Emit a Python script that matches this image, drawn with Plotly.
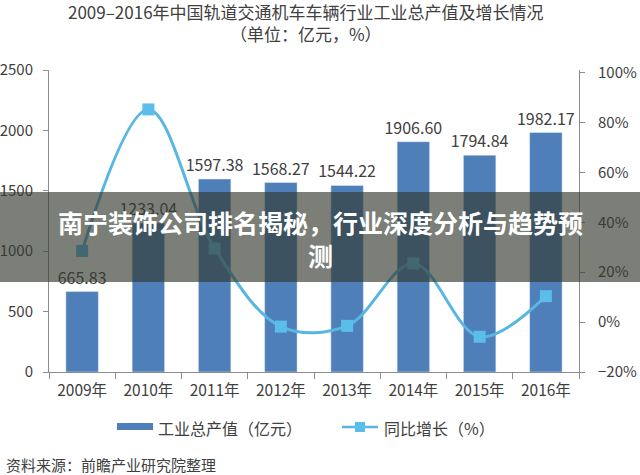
import plotly.graph_objects as go

# ---- data ----
years = ["2009年", "2010年", "2011年", "2012年", "2013年", "2014年", "2015年", "2016年"]
output_value = [665.83, 1233.04, 1597.38, 1568.27, 1544.22, 1906.60, 1794.84, 1982.17]
growth_rate = [28.5, 85.2, 29.5, -1.8, -1.5, 23.5, -5.9, 10.4]
left_ticks = [0, 500, 1000, 1500, 2000, 2500]
right_ticks = [-20, 0, 20, 40, 60, 80, 100]
right_labels = [f"{v}%".replace("-", "−") for v in right_ticks]

title_text = "2009–2016年中国轨道交通机车车辆行业工业总产值及增长情况<br>（单位：亿元，%）"
legend_bar = "工业总产值（亿元）"
legend_line = "同比增长（%）"
source_text = "资料来源：前瞻产业研究院整理"
banner_text = "南宁装饰公司排名揭秘，行业深度分析与趋势预<br>测"

# ---- layout helpers (pixel coords) ----
W, H = 640, 475
PL, PR, PT, PB = 49, 579, 70, 372          # plot area in pixels
L, R, T, B = PL, W - PR, PT, H - PB
pw, ph = PR - PL, PB - PT


def px(x):
    return (x - PL) / pw


def py(y):
    return (PB - y) / ph


FONT = "Noto Sans CJK SC"
TXT = "#404040"
AX = "#8c8c8c"
BAR = "#4f7fb9"
LINE = "#58b6e2"

fig = go.Figure()
fig.add_bar(
    x=years, y=output_value, marker_color=BAR, width=0.49,
    text=[f"{v:.2f}" for v in output_value], textposition="outside",
    constraintext="none",
    textfont=dict(size=16, color=TXT, family=FONT), cliponaxis=False,
    showlegend=False, hoverinfo="skip",
)
fig.add_scatter(
    x=years, y=growth_rate, yaxis="y2", mode="lines+markers",
    line=dict(color=LINE, width=3, shape="spline", smoothing=1),
    marker=dict(symbol="square", size=12, color="#5bbde9"),
    showlegend=False, cliponaxis=False, hoverinfo="skip",
)

shapes = [
    # banner
    dict(type="rect", xref="paper", yref="paper", x0=px(0), x1=px(640),
         y0=py(282), y1=py(192), fillcolor="rgba(52,58,48,0.65)",
         line=dict(width=0), layer="above"),
    # legend: bar swatch
    dict(type="rect", xref="paper", yref="paper", x0=px(117), x1=px(153),
         y0=py(430), y1=py(423), fillcolor=BAR, line=dict(width=0)),
    # legend: line swatch
    dict(type="line", xref="paper", yref="paper", x0=px(342), x1=px(378),
         y0=py(427), y1=py(427), line=dict(color=LINE, width=2.5)),
    dict(type="rect", xref="paper", yref="paper", x0=px(355), x1=px(365),
         y0=py(432), y1=py(422), fillcolor="#5bbde9", line=dict(width=0)),
]

annotations = [
    dict(text=title_text, x=px(306), y=py(23), xref="paper", yref="paper",
         showarrow=False, xanchor="center", yanchor="middle",
         font=dict(size=17, color=TXT, family=FONT)),
    dict(text=legend_bar, x=px(156), y=py(428), xref="paper", yref="paper",
         showarrow=False, xanchor="left", yanchor="middle",
         font=dict(size=16, color=TXT, family=FONT)),
    dict(text=legend_line, x=px(382), y=py(428), xref="paper", yref="paper",
         showarrow=False, xanchor="left", yanchor="middle",
         font=dict(size=16, color=TXT, family=FONT)),
    dict(text=source_text, x=px(4), y=py(464), xref="paper", yref="paper",
         showarrow=False, xanchor="left", yanchor="middle",
         font=dict(size=15, color=TXT, family=FONT)),
    dict(text=banner_text, x=px(320), y=py(238), xref="paper", yref="paper",
         showarrow=False, xanchor="center", yanchor="middle",
         font=dict(size=25, color="white", family=FONT, weight="bold")),
]

fig.update_layout(
    width=W, height=H, margin=dict(l=L, r=R, t=T, b=B, pad=0, autoexpand=False),
    paper_bgcolor="white", plot_bgcolor="white",
    font=dict(family=FONT, color=TXT, size=16),
    bargap=0.5,
    xaxis=dict(range=[-0.5, 7.5], showline=True, linecolor=AX, linewidth=1,
               ticks="outside", tickson="boundaries", ticklen=6, tickcolor=AX,
               tickfont=dict(size=15.5, color=TXT), ticklabelstandoff=4,
               showgrid=False, zeroline=False, automargin=False),
    yaxis=dict(range=[0, 2500], tickvals=left_ticks, showline=True,
               linecolor=AX, linewidth=1, ticks="outside", ticklen=5,
               tickcolor=AX, tickfont=dict(size=15, color=TXT),
               ticklabelstandoff=7, showgrid=False, zeroline=False,
               automargin=False),
    yaxis2=dict(range=[-20, 101], tickvals=right_ticks, ticktext=right_labels,
                overlaying="y", side="right", showline=True, linecolor=AX,
                linewidth=1, ticks="outside", ticklen=5, tickcolor=AX,
                tickfont=dict(size=15, color=TXT), ticklabelstandoff=10,
                showgrid=False, zeroline=False, automargin=False),
    shapes=shapes, annotations=annotations, showlegend=False,
)

# remove the browser's default 8px page margin so the figure sits at (0, 0)
fig.write_html(
    "out.html",
    config={"displayModeBar": False},
    post_script="document.body.style.margin='0';document.body.style.overflow='hidden';",
)
